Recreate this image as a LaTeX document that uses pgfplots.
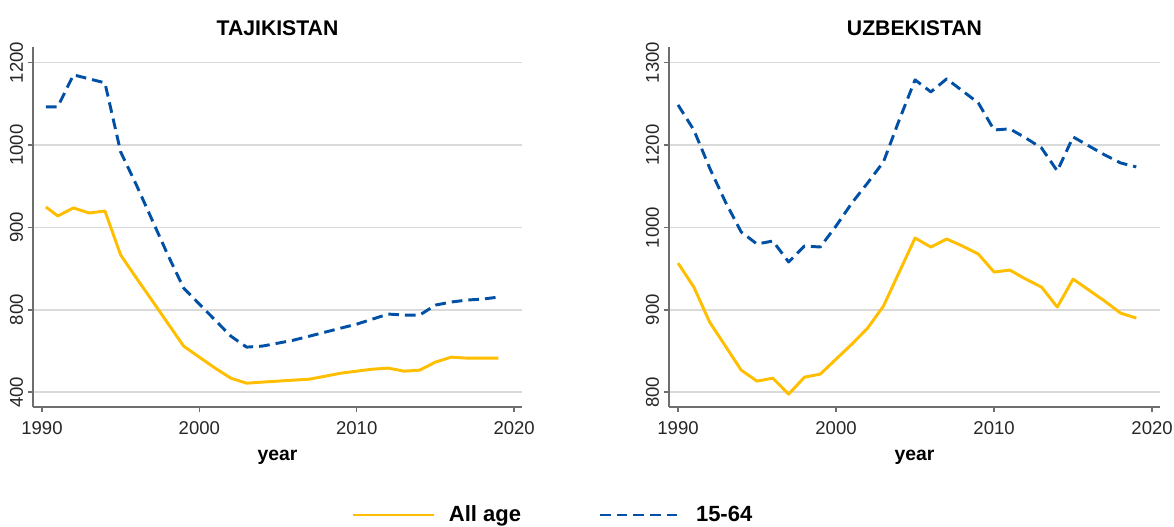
\documentclass[border=0pt]{standalone}
\usepackage{fontspec}
\setmainfont{Liberation Sans}
\usepackage{pgfplots}
\pgfplotsset{compat=1.18}
\definecolor{cyel}{RGB}{255,190,0}
\definecolor{cblue}{RGB}{0,80,165}
\definecolor{cgrid}{RGB}{218,218,218}
\definecolor{caxis}{RGB}{110,110,110}

\pgfplotstableread{
year   allage  wa
1990.25 2.248 3.463
1991   2.139  3.463
1992   2.236  3.852
1993   2.175  3.803
1994   2.199  3.755
1995   1.665  2.916
1996   1.385  2.515
1997   1.112  2.090
1998   0.835  1.665
1999   0.559  1.264
2000   0.425  1.069
2001   0.292  0.875
2002   0.170  0.680
2003   0.109  0.547
2004   0.122  0.559
2005   0.134  0.595
2006   0.146  0.632
2007   0.158  0.680
2008   0.194  0.729
2009   0.231  0.778
2010   0.255  0.826
2011   0.279  0.887
2012   0.292  0.948
2013   0.255  0.936
2014   0.267  0.936
2015   0.365  1.057
2016   0.425  1.094
2017   0.413  1.118
2018   0.413  1.130
2019   0.413  1.154
}\tjk

\pgfplotstableread{
year   allage  wa
1990   1.567  3.487
1991   1.276  3.183
1992   0.851  2.722
1993   0.559  2.309
1994   0.267  1.944
1995   0.134  1.798
1996   0.170  1.835
1997  -0.024  1.580
1998   0.182  1.774
1999   0.219  1.762
2000   0.401  2.017
2001   0.583  2.296
2002   0.778  2.540
2003   1.045  2.795
2004   1.458  3.305
2005   1.871  3.791
2006   1.762  3.645
2007   1.859  3.803
2008   1.774  3.657
2009   1.677  3.512
2010   1.458  3.183
2011   1.482  3.196
2012   1.373  3.086
2013   1.276  2.965
2014   1.033  2.685
2015   1.373  3.098
2016   1.239  2.989
2017   1.106  2.880
2018   0.960  2.783
2019   0.899  2.734
}\uzb

\pgfplotsset{
  myaxis/.style={
    scale only axis,
    height=270pt,
    xmin=1989.43, xmax=2020.5,
    ymin=-0.18, ymax=4.19,
    axis x line*=bottom, axis y line*=left,
    axis line style={caxis, line width=1.1pt, -},
    xtick={1990,2000,2010,2020},
    xticklabels={1990,2000,2010,2020},
    ytick={0,1,2,3,4},
    ymajorgrids, grid style={cgrid, line width=1.1pt},
    tick style={caxis, line width=1.1pt},
    tick align=outside,
    major tick length=3.5pt,
    tick label style={font=\fontsize{13.9}{14}\selectfont, text=black!85},
    yticklabel style={rotate=90, anchor=south, inner sep=0pt, yshift=3.75pt},
    xticklabel style={anchor=north, inner sep=0pt, yshift=-7pt},
    xlabel={year},
    xlabel style={font=\fontsize{14.5}{15}\selectfont\bfseries, anchor=base, at={(0.5,0)}, yshift=-40pt},
    title style={font=\fontsize{15.9}{16}\selectfont\bfseries, anchor=base, at={(0.5,1)}, yshift=2.5pt},
    every axis plot/.append style={line width=2.2pt, line join=round},
  }
}

\begin{document}
\begin{tikzpicture}
\useasboundingbox (0pt,0pt) rectangle (880.5pt,395.25pt);
\begin{axis}[myaxis, at={(24.75pt,90pt)}, anchor=south west, width=366.75pt,
  title={TAJIKISTAN},
  yticklabels={400,800,900,1000,1200},
  legend columns=2,
  legend style={at={(1.061,-0.30)}, anchor=center, draw=none, fill=none,
    inner sep=0pt, nodes={inner sep=0pt},
    font=\fontsize{16.5}{17}\selectfont\bfseries,
    /tikz/every even column/.append style={column sep=58pt}},
  legend image code/.code={\draw[#1] (0pt,0pt) -- (60.75pt,0pt); \path (71pt,0pt);},
]
\addplot[cyel, solid] table[x=year, y=allage] {\tjk};
\addlegendentry{All age}
\addplot[cblue, dash pattern=on 8pt off 4.5pt] table[x=year, y=wa] {\tjk};
\addlegendentry{15-64}
\end{axis}
\begin{axis}[myaxis, at={(501.75pt,90pt)}, anchor=south west, width=368.25pt,
  title={UZBEKISTAN},
  yticklabels={800,900,1000,1200,1300},
]
\addplot[cyel, solid] table[x=year, y=allage] {\uzb};
\addplot[cblue, dash pattern=on 8pt off 4.5pt] table[x=year, y=wa] {\uzb};
\end{axis}
\end{tikzpicture}
\end{document}
